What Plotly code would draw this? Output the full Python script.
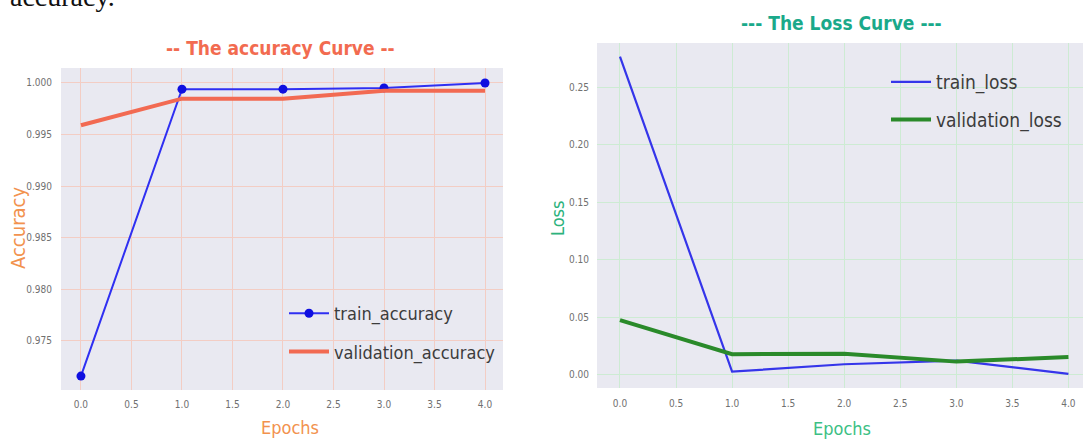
import plotly.graph_objects as go

epochs = [0, 1, 2, 3, 4]
train_accuracy = [0.9716, 0.99940, 0.99940, 0.99952, 1.00000]
validation_accuracy = [0.9959, 0.99848, 0.99848, 0.99925, 0.99925]
train_loss = [0.2763, 0.0029, 0.0093, 0.0124, 0.0010]
validation_loss = [0.0477, 0.0180, 0.0185, 0.0116, 0.0156]

acc_yticks = [0.975, 0.980, 0.985, 0.990, 0.995, 1.000]
loss_yticks = [0.00, 0.05, 0.10, 0.15, 0.20, 0.25]
x_ticks = [0.0, 0.5, 1.0, 1.5, 2.0, 2.5, 3.0, 3.5, 4.0]

W, H = 1083, 441
FONT = "DejaVu Sans Condensed, Liberation Sans, sans-serif"
BG = "#e9e9f1"

def px(x):
    return x / W

def py(y):
    return 1 - y / H

fig = go.Figure()

fig.add_trace(go.Scatter(x=epochs, y=train_accuracy, mode="lines+markers", name="train_accuracy",
                         line=dict(color="#2f2ff2", width=2), marker=dict(color="#0f0fe0", size=9),
                         xaxis="x", yaxis="y", legend="legend", legendgroup="a1"))
fig.add_trace(go.Scatter(x=epochs, y=validation_accuracy, mode="lines", name="validation_accuracy",
                         line=dict(color="#f26a52", width=4),
                         xaxis="x", yaxis="y", legend="legend", legendgroup="a2"))
fig.add_trace(go.Scatter(x=epochs, y=train_loss, mode="lines", name="train_loss",
                         line=dict(color="#3535ea", width=2.2),
                         xaxis="x2", yaxis="y2", legend="legend2", legendgroup="l1"))
fig.add_trace(go.Scatter(x=epochs, y=validation_loss, mode="lines", name="validation_loss",
                         line=dict(color="#2a8a2a", width=4),
                         xaxis="x2", yaxis="y2", legend="legend2", legendgroup="l2"))

tickfont = dict(family=FONT, size=10, color="#707070")
x_lbl = ["%.1f" % v for v in x_ticks]

common_axis = dict(showline=False, zeroline=False, ticks="", tickfont=tickfont)

fig.update_layout(
    width=W, height=H,
    margin=dict(l=0, r=0, t=0, b=0),
    paper_bgcolor="white",
    plot_bgcolor=BG,
    showlegend=True,
    xaxis=dict(domain=[px(61), px(503)], range=[-0.1975, 4.178], tickvals=x_ticks, ticktext=x_lbl,
               gridcolor="#f3cdc4", gridwidth=1, anchor="y", ticklabelstandoff=7, **common_axis),
    yaxis=dict(domain=[py(390), py(68)], range=[0.97025, 1.00145], tickvals=acc_yticks,
               ticktext=["%.3f" % v for v in acc_yticks],
               gridcolor="#f3cdc4", gridwidth=1, anchor="x", ticklabelstandoff=8, **common_axis),
    xaxis2=dict(domain=[px(597), 1.0], range=[-0.205, 4.13], tickvals=x_ticks, ticktext=x_lbl,
                gridcolor="#cdebd3", gridwidth=1, anchor="y2", ticklabelstandoff=8, **common_axis),
    yaxis2=dict(domain=[py(388), py(43)], range=[-0.0113, 0.2882], tickvals=loss_yticks,
                ticktext=["%.2f" % v for v in loss_yticks],
                gridcolor="#cdebd3", gridwidth=1, anchor="x2", ticklabelstandoff=7, **common_axis),
    legend=dict(x=px(284), y=py(295), xanchor="left", yanchor="top", bgcolor="rgba(0,0,0,0)",
                font=dict(family=FONT, size=18, color="#3c3c3c"), itemwidth=40,
                traceorder="grouped", tracegroupgap=12),
    legend2=dict(x=px(886), y=py(63), xanchor="left", yanchor="top", bgcolor="rgba(0,0,0,0)",
                 font=dict(family=FONT, size=19, color="#3c3c3c"), itemwidth=40,
                 traceorder="grouped", tracegroupgap=10),
)

def ann(text, x, y, color, size, bold=False, angle=0, family=FONT):
    fig.add_annotation(text=("<b>%s</b>" % text) if bold else text, x=px(x), y=py(y),
                       xref="paper", yref="paper", showarrow=False, textangle=angle,
                       xanchor="center", yanchor="middle",
                       font=dict(family=family, size=size, color=color))

ann("-- The accuracy Curve --", 280, 48, "#f26b50", 19, bold=True)
ann("--- The Loss Curve ---", 841, 23, "#1aa98a", 19, bold=True)
ann("Accuracy", 18, 228, "#f2924e", 20, angle=-90)
ann("Epochs", 290, 427, "#f2924e", 18)
ann("Loss", 557, 219, "#2db27c", 18, angle=-90)
ann("Epochs", 842, 428, "#3cbf84", 18)
fig.add_annotation(text="accuracy.", x=px(117), y=py(14), xref="paper", yref="paper",
                   showarrow=False, xanchor="right", yanchor="bottom",
                   font=dict(family="Liberation Serif", size=28, color="#111111"))

fig.write_html("out.html", config={"displayModeBar": False},
               post_script="document.body.style.margin='0';document.body.style.padding='0';document.body.style.overflow='hidden';")
